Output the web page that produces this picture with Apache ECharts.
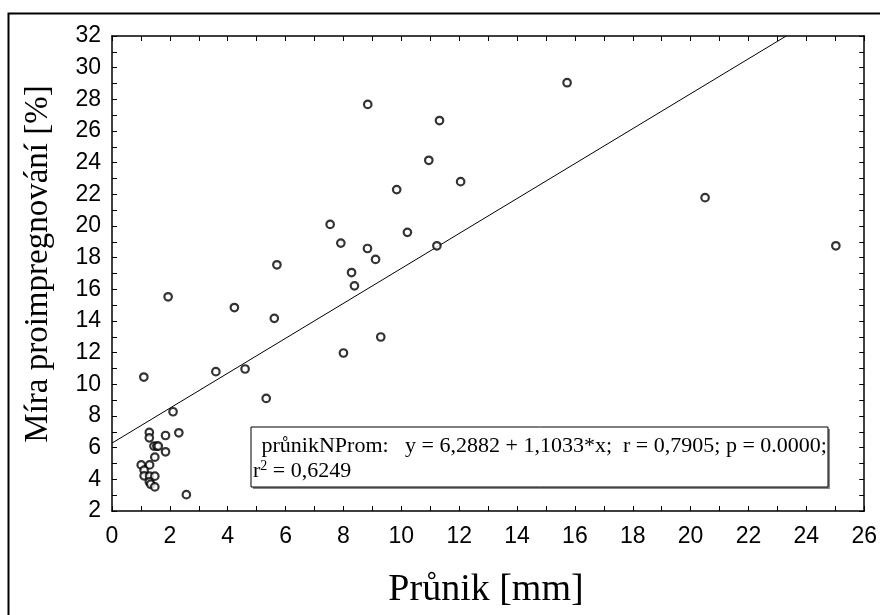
<!DOCTYPE html>
<html>
<head>
<meta charset="utf-8">
<script src="https://cdn.jsdelivr.net/npm/echarts@6/dist/echarts.min.js"></script>
<style>html,body{margin:0;padding:0;background:#fff}#c{width:880px;height:615px}</style>
</head>
<body>
<div id="c"></div>
<script>
// Data
var pruX = [15.73, 8.84, 11.32, 10.95, 12.05, 9.84, 7.54, 7.91, 8.83, 10.21, 9.11, 11.23, 8.28, 8.38,
            20.5, 25.02,
            5.70, 4.23, 5.61, 9.29, 8.0, 3.59, 4.6, 5.33,
            1.94, 1.10, 2.11, 2.31, 1.85, 1.29, 1.29, 1.85, 1.45, 1.55, 1.60, 1.48, 1.01, 1.30,
            1.11, 1.11, 1.30, 1.48, 1.29, 1.34, 1.48, 2.57];
var miraY = [29.05, 27.68, 26.66, 24.15, 22.8, 22.3, 20.1, 18.92, 18.58, 19.6, 17.89, 18.75, 17.06, 16.22,
             21.79, 18.75,
             17.55, 14.85, 14.17, 12.99, 11.98, 10.8, 10.97, 9.11,
             15.53, 10.46, 8.27, 6.94, 6.77, 6.96, 6.62, 5.74, 6.1, 6.1, 6.1, 5.4, 4.91, 4.91,
             4.58, 4.22, 4.2, 4.2, 3.84, 3.69, 3.52, 3.03];
var fitCoef = [6.2882, 1.1033];           // intercept, slope
var fitXRange = [0, 23.304];
var xTicks = [0, 26, 1];                  // min, max, step
var yTicks = [2, 32, 1];
var xTitle = 'Průnik [mm]';
var yTitle = 'Míra proimpregnování [%]';
var legendLine1 = ' průnikNProm:   y = 6,2882 + 1,1033*x;  r = 0,7905; p = 0.0000;';
var legendLine2 = '{n|r}{s|2}{n| = 0,6249}';

var points = pruX.map(function (x, i) { return [x, miraY[i]]; });
var fitLine = fitXRange.map(function (x) { return [x, fitCoef[0] + fitCoef[1] * x]; });

var chart = echarts.init(document.getElementById('c'), null, {renderer: 'canvas'});
var lblFont = {fontFamily: 'Liberation Sans', fontSize: 23, color: '#000'};
function evenOnly(v) { return (Math.round(v) % 2 === 0) ? String(Math.round(v)) : ''; }
var tick = {show: true, inside: true, length: 5, lineStyle: {color: '#000', width: 1}};
var axLine = {show: true, onZero: false, lineStyle: {color: '#000', width: 1.5}};

chart.setOption({
  animation: false,
  backgroundColor: '#fff',
  grid: {left: 112, right: 13, top: 36, height: 475},
  xAxis: [
    {type: 'value', min: xTicks[0], max: xTicks[1], interval: xTicks[2], position: 'bottom',
     axisLine: axLine, axisTick: tick, splitLine: {show: false},
     axisLabel: Object.assign({margin: 14, formatter: evenOnly, showMinLabel: true, showMaxLabel: true}, lblFont)},
    {type: 'value', min: xTicks[0], max: xTicks[1], interval: xTicks[2], position: 'top',
     axisLine: axLine, axisTick: tick, splitLine: {show: false}, axisLabel: {show: false}}
  ],
  yAxis: [
    {type: 'value', min: yTicks[0], max: yTicks[1], interval: yTicks[2], position: 'left',
     axisLine: axLine, axisTick: tick, splitLine: {show: false},
     axisLabel: Object.assign({margin: 11, formatter: evenOnly, showMinLabel: true, showMaxLabel: true}, lblFont)},
    {type: 'value', min: yTicks[0], max: yTicks[1], interval: yTicks[2], position: 'right',
     axisLine: axLine, axisTick: tick, splitLine: {show: false}, axisLabel: {show: false}}
  ],
  series: [
    {type: 'line', data: fitLine, symbol: 'none', silent: true,
     lineStyle: {color: '#000', width: 1}, clip: true, z: 2},
    {type: 'scatter', data: points, symbol: 'circle', symbolSize: 7.5,
     itemStyle: {color: '#fff', borderColor: '#000', borderWidth: 2.2}, z: 3}
  ],
  graphic: [
    {type: 'rect', left: 6, top: 11, shape: {x: 0, y: 0, width: 900, height: 700},
     style: {fill: 'none', stroke: '#000', lineWidth: 2}, silent: true, z: -1},
    {type: 'rect', shape: {x: 253, y: 429, width: 577, height: 60},
     style: {fill: '#888', stroke: 'none'}, z: 10},
    {type: 'rect', shape: {x: 251, y: 427, width: 577, height: 60},
     style: {fill: '#fff', stroke: '#000', lineWidth: 1}, z: 11},
    {type: 'text', x: 256, y: 446, z: 12,
     style: {text: legendLine1, fontFamily: 'Liberation Serif', fontSize: 22, fill: '#000', textVerticalAlign: 'middle'}},
    {type: 'text', x: 253, y: 471, z: 12,
     style: {text: legendLine2, textVerticalAlign: 'middle',
       rich: {n: {fontFamily: 'Liberation Serif', fontSize: 22, fill: '#000', color: '#000', lineHeight: 24},
              s: {fontFamily: 'Liberation Serif', fontSize: 14, fill: '#000', color: '#000', verticalAlign: 'top', lineHeight: 22}}}},
    {type: 'text', x: 486, y: 590, z: 12,
     style: {text: xTitle, fontFamily: 'Liberation Serif', fontSize: 38, fill: '#000', textAlign: 'center', textVerticalAlign: 'middle'}},
    {type: 'text', x: 38, y: 264, rotation: Math.PI / 2, z: 12,
     style: {text: yTitle, fontFamily: 'Liberation Serif', fontSize: 33, fill: '#000', textAlign: 'center', textVerticalAlign: 'middle'}}
  ]
});
</script>
</body>
</html>
